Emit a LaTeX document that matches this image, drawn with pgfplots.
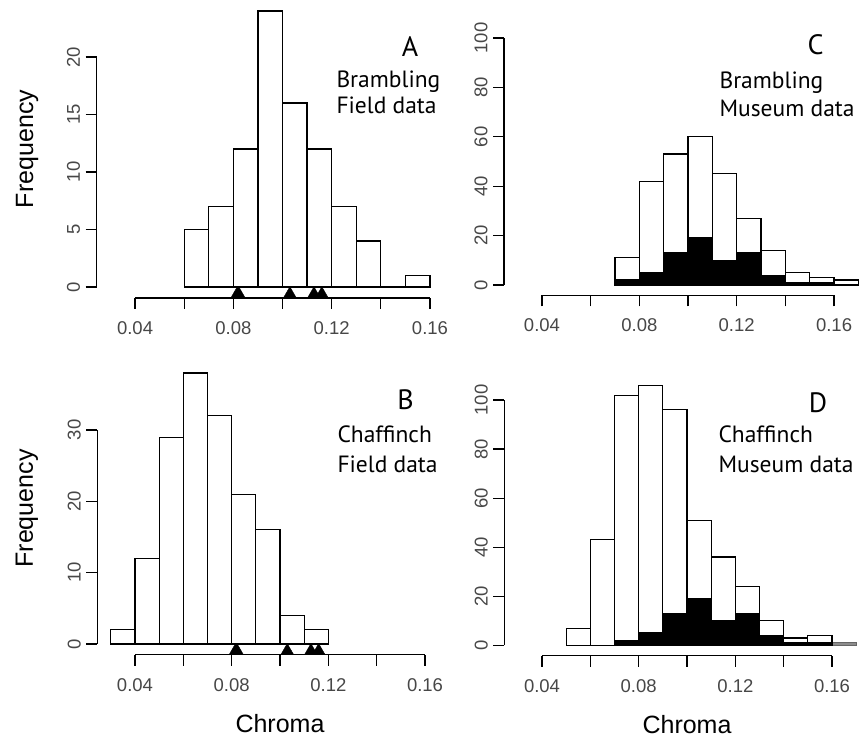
\documentclass[border=0pt]{standalone}
\usepackage{fontspec}
\setmainfont{Liberation Sans}
\newfontfamily\annfont{PT Sans}
\usepackage{pgfplots}
\pgfplotsset{compat=1.18}

\newcommand\tickfont{\fontsize{18.5bp}{21bp}\selectfont}
\newcommand\labfont{\fontsize{25bp}{28bp}\selectfont}
\newcommand\annsize{\annfont\fontsize{23.5bp}{26bp}\selectfont}
\newcommand\letsize{\annfont\fontsize{28bp}{30bp}\selectfont}

\pgfplotsset{
  hist/.style={
    scale only axis, clip=false, anchor=south west,
    axis lines*=left, axis line style={draw=none},
    tick align=outside, major tick length=11bp,
    every tick/.style={black, line width=1.2bp},
    xmin=0.0244, xmax=0.1756,
    xtick={0.04,0.06,0.08,0.10,0.12,0.14,0.16},
    xticklabels={0.04,,0.08,,0.12,,0.16},
    /pgf/number format/assume math mode=true,
    ticklabel style={font=\tickfont, text=black!72},
    xticklabel style={anchor=north, yshift=-9bp},
    yticklabel style={rotate=90, anchor=south, yshift=2bp},
    every axis y label/.style={rotate=90, anchor=base, font=\labfont},
    every axis x label/.style={at={(axis description cs:0.5,0)}, anchor=base, yshift=-78bp, font=\labfont},
  },
  tot/.style={ybar, bar width=0.01, bar shift=0pt, fill=white, draw=black, line width=1.2bp},
  blk/.style={ybar, bar width=0.01, bar shift=0pt, fill=black, draw=black, line width=1.2bp},
  tri/.style={only marks, mark=triangle*, mark size=7.5bp, mark options={fill=black, draw=black, line width=0.4bp, yshift=3.75bp}},
}

\begin{document}
\begin{tikzpicture}[x=1bp, y=1bp]
\useasboundingbox (0,0) rectangle (860,744);

% A: Brambling, field data
\begin{axis}[hist, at={(96.7bp,446bp)}, width=371.6bp, height=298bp,
    ymin=-0.96, ymax=24.96, ytick={0,5,10,15,20},
    ylabel={Frequency}, ylabel style={at={(axis description cs:-0.1714,0.5)}}]
  \addplot[tot] coordinates {
    (0.065,5) (0.075,7) (0.085,12) (0.095,24) (0.105,16)
    (0.115,12) (0.125,7) (0.135,4) (0.145,0) (0.155,1)};
  \addplot[tri] coordinates {(0.0816,-0.96) (0.0822,-0.96) (0.1030,-0.96) (0.1128,-0.96) (0.1160,-0.96)};
  \draw[line width=1.2bp] (axis cs:0.04,-0.96) -- (axis cs:0.16,-0.96);
  \draw[line width=1.2bp] (axis cs:0.0244,0) -- (axis cs:0.0244,20);
\end{axis}

% B: Chaffinch, field data
\begin{axis}[hist, at={(97.3bp,89.2bp)}, width=365.4bp, height=292.7bp,
    ymin=-1.52, ymax=39.52, ytick={0,10,20,30},
    ylabel={Frequency}, ylabel style={at={(axis description cs:-0.176,0.5)}},
    xlabel={Chroma}]
  \addplot[tot] coordinates {
    (0.035,2) (0.045,12) (0.055,29) (0.065,38) (0.075,32)
    (0.085,21) (0.095,16) (0.105,4) (0.115,2)};
  \addplot[tri] coordinates {(0.0816,-1.52) (0.0822,-1.52) (0.1030,-1.52) (0.1128,-1.52) (0.1160,-1.52)};
  \draw[line width=1.2bp] (axis cs:0.04,-1.52) -- (axis cs:0.16,-1.52);
  \draw[line width=1.2bp] (axis cs:0.0244,0) -- (axis cs:0.0244,30);
\end{axis}

% C: Brambling, museum data
\begin{axis}[hist, at={(504bp,448.5bp)}, width=368bp, height=282.8bp,
    ymin=-4.24, ymax=110.24, ytick={0,20,40,60,80,100}]
  \addplot[tot] coordinates {
    (0.075,11) (0.085,42) (0.095,53) (0.105,60) (0.115,45)
    (0.125,27) (0.135,14) (0.145,5) (0.155,3) (0.165,2)};
  \addplot[blk] coordinates {
    (0.075,2) (0.085,5) (0.095,13) (0.105,19) (0.115,10)
    (0.125,13) (0.135,4) (0.145,1) (0.155,1)};
  \draw[line width=1.2bp] (axis cs:0.04,-4.24) -- (axis cs:0.16,-4.24);
  \draw[line width=1.2bp] (axis cs:0.0244,0) -- (axis cs:0.0244,100);
\end{axis}

% D: Chaffinch, museum data
\begin{axis}[hist, at={(504.3bp,88.3bp)}, width=365.4bp, height=280.8bp,
    ymin=-4.24, ymax=110.24, ytick={0,20,40,60,80,100},
    xlabel={Chroma}]
  \addplot[tot] coordinates {
    (0.055,7) (0.065,43) (0.075,102) (0.085,106) (0.095,96)
    (0.105,51) (0.115,36) (0.125,24) (0.135,10) (0.145,3) (0.155,4)};
  \addplot[tot, fill=black!45, draw=black!60] coordinates {(0.165,1)};
  \addplot[blk] coordinates {
    (0.075,2) (0.085,5) (0.095,13) (0.105,19) (0.115,10)
    (0.125,13) (0.135,4) (0.145,1) (0.155,1)};
  \draw[line width=1.2bp] (axis cs:0.04,-4.24) -- (axis cs:0.16,-4.24);
  \draw[line width=1.2bp] (axis cs:0.0244,0) -- (axis cs:0.0244,100);
\end{axis}

% panel letters and captions
\node[anchor=base, font=\letsize] at (410,687) {A};
\node[anchor=base west, font=\annsize] at (333,656) {Brambling};
\node[anchor=base west, font=\annsize] at (333,630) {Field data};

\node[anchor=base, font=\letsize] at (405.5,334) {B};
\node[anchor=base west, font=\annsize] at (334,301) {Chaffinch};
\node[anchor=base west, font=\annsize] at (334,271) {Field data};

\node[anchor=base, font=\letsize] at (815.5,689) {C};
\node[anchor=base west, font=\annsize] at (716,655) {Brambling};
\node[anchor=base west, font=\annsize] at (716,627) {Museum data};

\node[anchor=base, font=\letsize] at (818,331) {D};
\node[anchor=base west, font=\annsize] at (715,301) {Chaffinch};
\node[anchor=base west, font=\annsize] at (715,271) {Museum data};
\end{tikzpicture}
\end{document}
